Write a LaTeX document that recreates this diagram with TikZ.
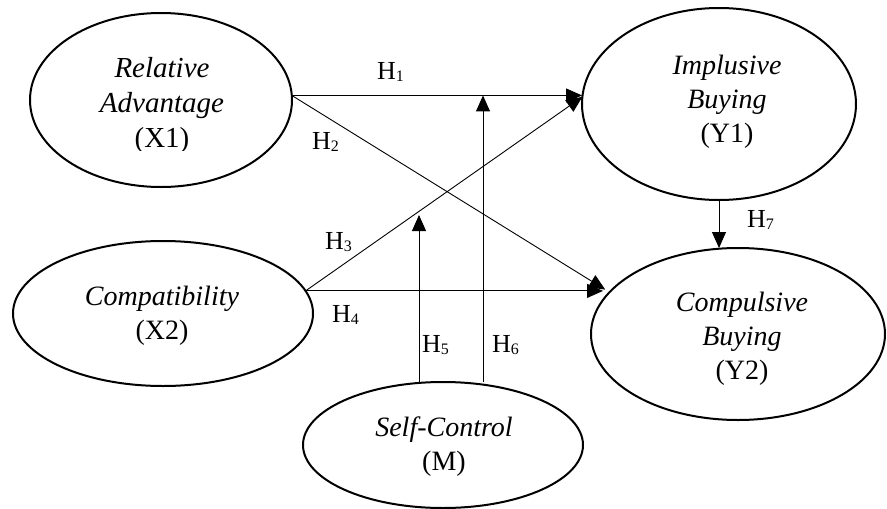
\documentclass[tikz,border=0pt]{standalone}
\usepackage{fontspec}
\setmainfont{Liberation Serif}
\usetikzlibrary{shapes.geometric,arrows.meta}
\tikzset{
  ell/.style={draw,ellipse,line width=2pt,inner sep=0pt,outer sep=0pt},
  elltext/.style={align=center,inner sep=0pt,font=\fontsize{28}{34}\selectfont},
  conn/.style={line width=0.9pt,-{Triangle[length=16pt,width=14pt]}},
  hyp/.style={inner sep=0pt,anchor=base west,font=\fontsize{26}{28}\selectfont},
}
\newcommand{\hsub}[1]{H\raisebox{-2pt}{\fontsize{16}{18}\selectfont #1}}
\begin{document}
\begin{tikzpicture}[x=1pt,y=-1pt]
\useasboundingbox (0,0) rectangle (887,509);
% ellipses
\node[ell,minimum width=262pt,minimum height=174pt] (x1) at (161,100) {};
\node[ell,minimum width=274pt,minimum height=192pt] (y1) at (719,104) {};
\node[ell,minimum width=300pt,minimum height=145pt] (x2) at (163,313.5) {};
\node[ell,minimum width=294pt,minimum height=172pt] (y2) at (738,334) {};
\node[ell,minimum width=280pt,minimum height=126pt] (m) at (443,445) {};
% texts
\begin{scope}
  \clip (0,0) rectangle (400,150);
  \node[elltext,font=\fontsize{29}{35}\selectfont] (x1t) at (162,106) {\textit{Relative}\\\textit{Advantage}\\(X1)};
\end{scope}
\node[elltext] (y1t) at (727,102) {\textit{Implusive}\\\textit{Buying}\\(Y1)};
\node[elltext] (y2t) at (742,339) {\textit{Compulsive}\\\textit{Buying}\\(Y2)};
\node[elltext] (x2t) at (162,316) {\textit{Compatibility}\\(X2)};
\node[elltext] (mt) at (444,447) {\textit{Self-Control}\\(M)};
% connectors
\draw[conn] (x1.2) -- (x1.2 -| y1.west);
\draw[conn,shorten >=5pt] (x1.2) -- (y2.162);
\draw[conn] (x2.9) -- (y1.177);
\draw[conn] (x2.9) -- ([xshift=12pt]x2.9 -| y2.west);
\coordinate (h5b) at (419,215);
\draw[conn] ([xshift=-24pt]m.north) -- (h5b);
\draw[conn] ([xshift=40pt]m.north) -- ([xshift=40pt]m.north |- x1.2);
\draw[conn] (y1.south) -- (y1.south |- y2.north);
% labels
\node[hyp] (l1) at (377,79) {\hsub{1}};
\node[hyp] (l2) at (312,149) {\hsub{2}};
\node[hyp] (l3) at (325,249) {\hsub{3}};
\node[hyp] (l4) at (332,322) {\hsub{4}};
\node[hyp] (l5) at (422,352) {\hsub{5}};
\node[hyp] (l6) at (492,352) {\hsub{6}};
\node[hyp] (l7) at (747,227) {\hsub{7}};
\end{tikzpicture}
\end{document}
